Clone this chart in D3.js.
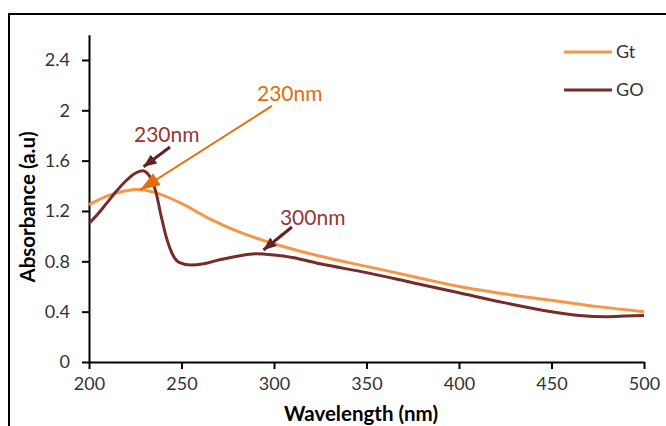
<!DOCTYPE html>
<meta charset="utf-8">
<title>Absorbance</title>
<style>
  body { margin: 0; background: #fff; }
  text { font-family: Lato, "Open Sans", sans-serif; }
</style>
<body>
<script src="https://cdn.jsdelivr.net/npm/d3@7"></script>
<script>
// wavelength (nm) / absorbance (a.u)
var gtWave = [200, 210, 220, 226, 235, 250, 265, 280, 300, 325, 350, 375, 400, 425, 450, 475, 500];
var gtAbs  = [1.25, 1.32, 1.36, 1.37, 1.35, 1.26, 1.14, 1.04, 0.94, 0.84, 0.76, 0.68, 0.60, 0.54, 0.49, 0.44, 0.40];

var goWave = [200, 205, 210, 215, 220, 225, 229, 233, 236, 239, 242, 245, 249, 255, 262, 270, 280, 290, 300, 310, 325, 350, 375, 400, 425, 450, 465, 480, 490, 500];
var goAbs  = [1.10, 1.18, 1.27, 1.36, 1.44, 1.50, 1.52, 1.47, 1.36, 1.16, 0.98, 0.86, 0.79, 0.77, 0.78, 0.81, 0.84, 0.86, 0.85, 0.83, 0.78, 0.71, 0.63, 0.55, 0.47, 0.40, 0.37, 0.36, 0.365, 0.37];

var xTicks = [200, 250, 300, 350, 400, 450, 500];
var yTicks = [0, 0.4, 0.8, 1.2, 1.6, 2, 2.4];
var yTickLabels = ['0', '0.4', '0.8', '1.2', '1.6', '2', '2.4'];

var seriesNames = ['Gt', 'GO'];
var seriesColors = ['#f79646', '#772c2a'];

// annotations: label, text pos, arrow start, arrow tip (in data units)
var noteText  = ['230nm', '230nm', '300nm'];
var noteAt    = [[290.8, 2.075], [224.3, 1.749], [303.2, 1.089]];
var noteFrom  = [[298.9, 2.035], [243.8, 1.709], [309.7, 1.073]];
var noteTo    = [[227.6, 1.367], [229.5, 1.552], [294.3, 0.890]];
var noteColor = ['#e46c0a', '#953735', '#953735'];
var arrowColor = ['#e46c0a', '#632523', '#632523'];

var W = 666, H = 426;
var svg = d3.select('body').append('svg')
  .attr('width', W)
  .attr('height', H);

// outer frame
svg.append('rect')
  .attr('x', 9).attr('y', 14)
  .attr('width', W + 10).attr('height', H)
  .style('fill', 'none').style('stroke', '#000').style('stroke-width', 2);

var x = d3.scaleLinear().domain([200, 500]).range([89, 644]);
var y = d3.scaleLinear().domain([0, 2.6]).range([362, 34.8]);

var xAxis = svg.append('g')
  .attr('transform', 'translate(0,362)')
  .call(d3.axisBottom(x).tickValues(xTicks).tickSize(7).tickSizeOuter(0).tickPadding(6));
var yAxis = svg.append('g')
  .attr('transform', 'translate(89,0)')
  .call(d3.axisLeft(y).tickValues(yTicks).tickSize(7).tickSizeOuter(0).tickPadding(12)
    .tickFormat(function(d, i) { return yTickLabels[i]; }));

[xAxis, yAxis].forEach(function(g) {
  g.select('.domain').style('stroke', '#000').style('stroke-width', 2);
  g.selectAll('.tick line').style('stroke', '#000').style('stroke-width', 2);
  g.selectAll('.tick text')
    .style('font-size', '18px')
    .style('font-family', 'Lato, sans-serif')
    .style('fill', '#333');
});
xAxis.selectAll('.tick text').attr('dy', '0.85em');

// axis titles
svg.append('text')
  .attr('x', 361).attr('y', 421)
  .style('text-anchor', 'middle')
  .style('font-size', '20.5px').style('font-weight', 'bold').style('fill', '#000')
  .text('Wavelength (nm)');
svg.append('text')
  .attr('transform', 'translate(35,207) rotate(-90)')
  .style('text-anchor', 'middle')
  .style('font-size', '20.5px').style('font-weight', 'bold').style('fill', '#000')
  .text('Absorbance (a.u)');

// curves
var line = d3.line()
  .x(function(d) { return x(d[0]); })
  .y(function(d) { return y(d[1]); })
  .curve(d3.curveMonotoneX);

var series = [d3.zip(gtWave, gtAbs), d3.zip(goWave, goAbs)];
series.forEach(function(s, i) {
  svg.append('path')
    .datum(s)
    .attr('d', line)
    .style('fill', 'none')
    .style('stroke', seriesColors[i])
    .style('stroke-width', 3);
});

// legend
for (var i = 0; i < 2; i++) {
  svg.append('line')
    .attr('x1', 564).attr('x2', 612)
    .attr('y1', 52 + i * 38).attr('y2', 52 + i * 38)
    .style('stroke', seriesColors[i]).style('stroke-width', 3);
  svg.append('text')
    .attr('x', 616).attr('y', 58 + i * 38)
    .style('font-size', '18px').style('fill', '#333')
    .text(seriesNames[i]);
}

// arrow markers
var defs = svg.append('defs');
var headSize = [[20, 14], [13, 11], [13, 11]];
for (var i = 0; i < 3; i++) {
  var L = headSize[i][0], Wd = headSize[i][1];
  defs.append('marker')
    .attr('id', 'head' + i)
    .attr('markerUnits', 'userSpaceOnUse')
    .attr('viewBox', '0 0 ' + L + ' ' + Wd)
    .attr('refX', L).attr('refY', Wd / 2)
    .attr('markerWidth', L).attr('markerHeight', Wd)
    .attr('orient', 'auto')
    .append('path')
      .attr('d', 'M0,0L' + L + ',' + (Wd / 2) + 'L0,' + Wd + 'Z')
      .style('fill', arrowColor[i]);
}

for (var i = 0; i < 3; i++) {
  svg.append('line')
    .attr('x1', x(noteFrom[i][0])).attr('y1', y(noteFrom[i][1]))
    .attr('x2', x(noteTo[i][0])).attr('y2', y(noteTo[i][1]))
    .style('stroke', arrowColor[i])
    .style('stroke-width', i == 0 ? 2 : 3)
    .attr('marker-end', 'url(#head' + i + ')');
  svg.append('text')
    .attr('x', x(noteAt[i][0])).attr('y', y(noteAt[i][1]))
    .style('font-size', '21px')
    .style('fill', noteColor[i])
    .text(noteText[i]);
}
</script>
</body>
